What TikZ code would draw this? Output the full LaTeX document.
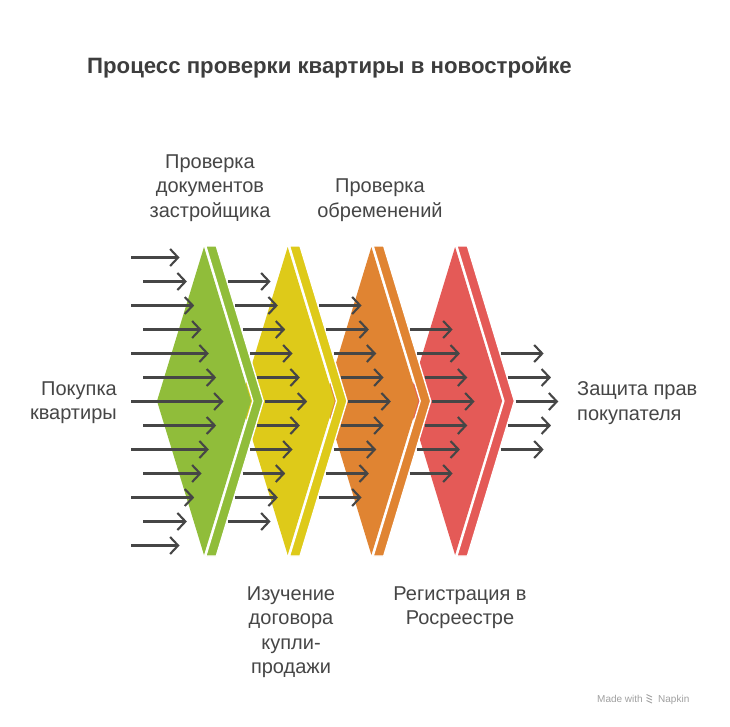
\documentclass[tikz,border=0pt]{standalone}
\usepackage{fontspec}
\setmainfont{Liberation Sans}
\usetikzlibrary{arrows.meta}
\definecolor{cgreen}{HTML}{90BD3A}
\definecolor{cyellow}{HTML}{DECA19}
\definecolor{corange}{HTML}{E08432}
\definecolor{cred}{HTML}{E45A57}
\definecolor{ink}{HTML}{464646}
\definecolor{titleink}{HTML}{3D3D3D}
\definecolor{wm}{HTML}{A0A0A0}
\begin{document}
\begin{tikzpicture}[x=1pt,y=-1pt,
  flow/.style={draw=ink, line width=2.1pt, -{Straight Barb[length=8pt,width=17pt,line width=2.1pt]}},
  lbl/.style={inner sep=0pt, text=ink, font=\fontsize{20}{24.5}\selectfont, align=center},
  band/.style={draw=white, line width=1.4pt},
]
\useasboundingbox (0,0) rectangle (730,726);
\fill[white] (0,0) rectangle (730,726);

% chevron shapes, drawn right to left so that each one lies over the next
\foreach \i/\c in {3/cred,2/corange,1/cyellow,0/cgreen}{
  \pgfmathsetmacro{\cx}{204+83.7*\i}
  \fill[\c] (\cx-47,401) -- (\cx,247) -- (\cx+47,401) -- (\cx,555) -- cycle;
  \filldraw[fill=\c, band] (\cx+1.8,246) -- (\cx+12.3,246) -- (\cx+59.3,401)
     -- (\cx+12.3,556) -- (\cx+1.8,556) -- (\cx+48.8,401) -- cycle;
}

% arrows
\foreach \g in {0,...,4}{
  \pgfmathtruncatemacro{\kend}{12-\g}
  \foreach \k in {\g,...,\kend}{
    \pgfmathsetmacro{\yy}{257.5+24*\k}
    \pgfmathsetmacro{\w}{47*(1-abs(\yy-401.5)/154)}
    \pgfmathsetmacro{\tx}{204+83.7*\g+\w-27.5}
    \ifnum\g=0
      \pgfmathsetmacro{\sx}{ifthenelse(mod(\k,2)==0,131,143)}
    \else
      \pgfmathsetmacro{\sx}{204+83.7*(\g-1)+12.3+\w+1.2}
    \fi
    \coordinate (s\g-\k) at (\sx,\yy);
    \coordinate (t\g-\k) at (\tx,\yy);
    \draw[flow] (s\g-\k) -- (t\g-\k);
  }
}

% texts
\node[anchor=base west, inner sep=0pt, text=titleink, font=\bfseries\fontsize{22.2}{27}\selectfont] (title) at (87,73) {Процесс проверки квартиры в новостройке};
\node[lbl, anchor=north] (docs) at (210,154.5) {Проверка\\документов\\застройщика};
\node[lbl, anchor=north] (enc) at (380,179) {Проверка\\обременений};
\node[lbl, align=right, anchor=north east] (buy) at (117,381.5) {Покупка\\квартиры};
\node[lbl, align=left, anchor=north west] (prot) at (577,381.5) {Защита прав\\покупателя};
\node[lbl, anchor=north] (contract) at (291,586.5) {Изучение\\договора\\купли-\\продажи};
\node[lbl, anchor=north] (reg) at (460,586.5) {Регистрация в\\Росреестре};

% watermark
\node[anchor=base west, inner sep=0pt, text=wm, font=\fontsize{10}{12}\selectfont] (made) at (597,702) {Made with};
\node[anchor=base west, inner sep=0pt, text=wm, font=\fontsize{10}{12}\selectfont] (napkin) at (658,702) {Napkin};
\draw[wm, line width=0.9pt] (646.5,694.5) -- (652,697) (646.5,697.5) -- (652,700) (646.5,700.5) -- (652,703);
\end{tikzpicture}
\end{document}
